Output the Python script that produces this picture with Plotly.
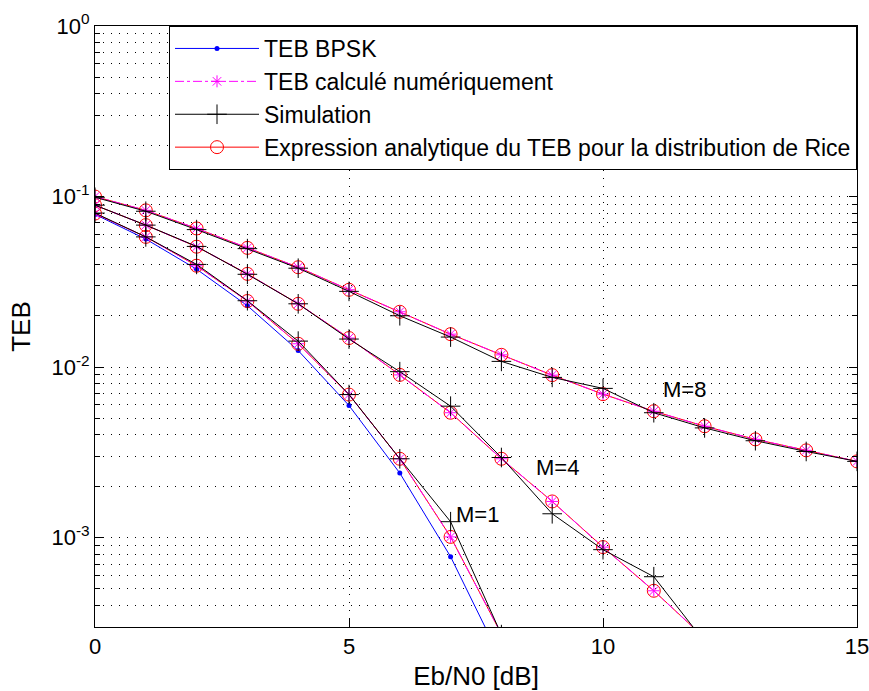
import math
import plotly.graph_objects as go

# Eb/N0 grid (dB)
snr = list(range(16))

# BER of coherent BPSK over AWGN
bpsk_x = list(range(9))
bpsk = [0.0786, 0.0563, 0.0375, 0.0229, 0.0125, 0.00595, 0.00239, 0.000773, 0.000191]

# Rician channel, K = 1 / 4 / 8 : analytic expression of the BER
rice_m1 = [0.0795, 0.0580, 0.0393, 0.0244, 0.0137, 0.00690, 0.00290, 0.00101, 0.000272]
rice_m4 = [0.0890, 0.0680, 0.0508, 0.0352, 0.0235, 0.0148, 0.00900, 0.00540, 0.00290,
           0.00163, 0.000880, 0.000488, 0.000258]
rice_m8 = [0.100, 0.0830, 0.0650, 0.0500, 0.0385, 0.0284, 0.0211, 0.0156, 0.0118,
           0.00897, 0.00694, 0.00551, 0.00450, 0.00377, 0.00325, 0.00280]

# numerically integrated BER (same as analytic)
num_m1 = list(rice_m1)
num_m4 = list(rice_m4)
num_m8 = list(rice_m8)

# Monte-Carlo simulation
sim_m1 = [0.0800, 0.0580, 0.0400, 0.0245, 0.0142, 0.00690, 0.00290, 0.00124, 0.000270]
sim_m4 = [0.0890, 0.0680, 0.0510, 0.0350, 0.0235, 0.0146, 0.00940, 0.00590, 0.00295,
          0.00138, 0.000850, 0.000590, 0.000245]
sim_m8 = [0.0990, 0.0820, 0.0640, 0.0495, 0.0380, 0.0278, 0.0200, 0.0150, 0.0108,
          0.00870, 0.00750, 0.00540, 0.00440, 0.00370, 0.00320, 0.00280]

# curve labels
labels = ["M=1", "M=4", "M=8"]
label_x = [7.52, 9.11, 11.61]
label_y = [0.00136, 0.00258, 0.00743]

# axis ticks
x_ticks = [0, 5, 10, 15]
y_ticks = [1e-3, 1e-2, 1e-1, 1]
y_ticktext = ["10<sup>-3</sup>", "10<sup>-2</sup>", "10<sup>-1</sup>", "10<sup>0</sup>"]


def joined(series):
    xs, ys = [], []
    for s in series:
        xs += snr[:len(s)] + [None]
        ys += list(s) + [None]
    return xs, ys


FONT = "Liberation Sans, Arial, sans-serif"
fig = go.Figure()

fig.add_trace(go.Scatter(
    x=bpsk_x, y=bpsk, name="TEB BPSK", mode="lines+markers",
    line=dict(color="#0000ff", width=1),
    marker=dict(symbol="circle", size=5, color="#0000ff"),
    legendrank=1))

xr, yr = joined([rice_m1, rice_m4, rice_m8])
fig.add_trace(go.Scatter(
    x=xr, y=yr, name="Expression analytique du TEB pour la distribution de Rice",
    mode="lines+markers", line=dict(color="#ff0000", width=1),
    marker=dict(symbol="circle-open", size=13, color="#ff0000", line=dict(width=1)),
    legendrank=4))

xn, yn = joined([num_m1, num_m4, num_m8])
fig.add_trace(go.Scatter(
    x=xn, y=yn, name="TEB calculé numériquement", mode="lines+markers",
    line=dict(color="#ff00ff", width=1, dash="dashdot"),
    marker=dict(symbol="asterisk-open", size=10, color="#ff00ff", line=dict(width=1, color="#ff00ff")),
    legendrank=2))

xs, ys = joined([sim_m1, sim_m4, sim_m8])
fig.add_trace(go.Scatter(
    x=xs, y=ys, name="Simulation", mode="lines+markers",
    line=dict(color="#000000", width=1),
    marker=dict(symbol="cross-thin-open", size=14, color="#000000", line=dict(width=1, color="#000000")),
    legendrank=3))

# annotations on a log axis are placed in log10 units
for t, lx, ly in zip(labels, label_x, label_y):
    fig.add_annotation(x=lx, y=math.log10(ly), text=t, showarrow=False,
                       font=dict(family=FONT, size=22, color="#000000"))

grid = dict(gridcolor="#000000", gridwidth=1, griddash="1px,7px")

fig.update_layout(
    width=869, height=691,
    margin=dict(l=95, r=12, t=26, b=64),
    paper_bgcolor="white", plot_bgcolor="white",
    font=dict(family=FONT, size=22, color="#000000"),
    showlegend=True,
    legend=dict(x=1, y=1, xanchor="right", yanchor="top",
                bgcolor="white", bordercolor="#000000", borderwidth=1,
                itemwidth=84, font=dict(family=FONT, size=23),
                tracegroupgap=0),
    xaxis=dict(range=[0, 15], tickmode="array", tickvals=x_ticks, automargin=False,
               ticklabeloverflow="allow",
               ticks="inside", ticklen=8, tickwidth=1, tickcolor="#000000",
               showline=True, linecolor="#000000", linewidth=1, mirror="allticks",
               zeroline=False, showgrid=True,
               title=dict(text="Eb/N0 [dB]", standoff=14), **grid),
    yaxis=dict(type="log", range=[-3.524, 0], tickmode="array", automargin=False,
               ticklabeloverflow="allow",
               tickvals=y_ticks, ticktext=y_ticktext,
               ticks="inside", ticklen=8, tickwidth=1, tickcolor="#000000",
               showline=True, linecolor="#000000", linewidth=1, mirror="allticks",
               zeroline=False, showgrid=True,
               minor=dict(tickmode="array",
                          tickvals=[m * 10.0 ** e for e in range(-4, 0) for m in range(2, 10)],
                          ticks="inside", ticklen=5, tickcolor="#000000",
                          showgrid=True, gridcolor="#000000", gridwidth=1, griddash="1px,7px"),
               title=dict(text="TEB", standoff=13), **grid),
)

fig.write_html("out.html")
